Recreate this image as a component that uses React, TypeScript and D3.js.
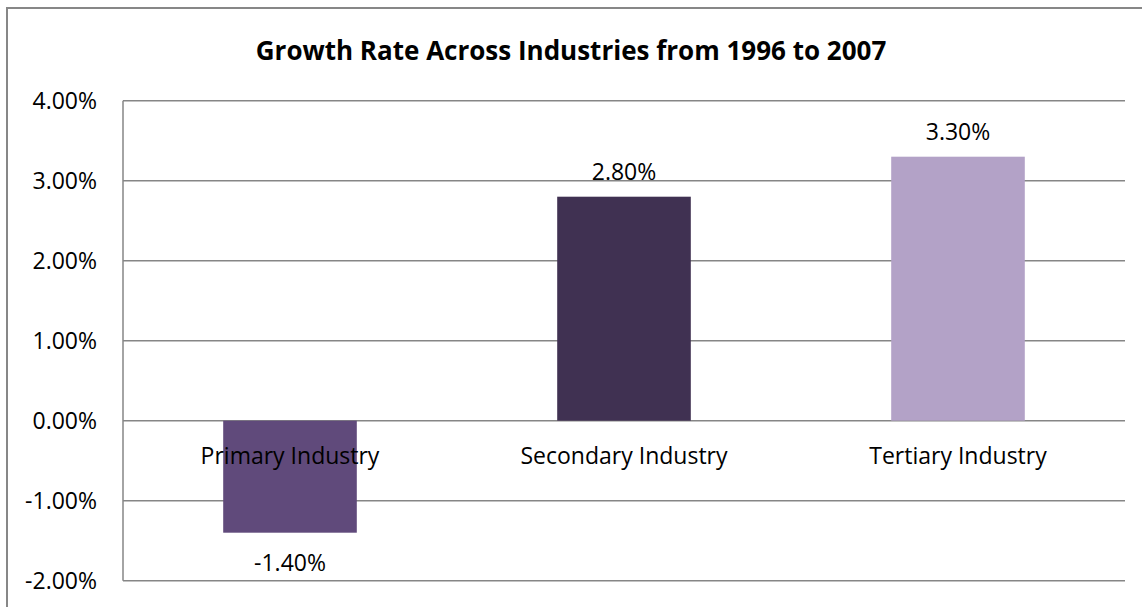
import React from "react";
import * as d3 from "d3";

const categories = ["Primary Industry", "Secondary Industry", "Tertiary Industry"];
const values = [-0.014, 0.028, 0.033];
const colors = ["#604a7b", "#403152", "#b3a2c7"];
const yTicks = [-0.02, -0.01, 0, 0.01, 0.02, 0.03, 0.04];
const title = "Growth Rate Across Industries from 1996 to 2007";

const W = 1142;
const H = 607;
const FONT = "'Open Sans', 'Liberation Sans', sans-serif";

export default function App() {
  const left = 123;
  const right = 1125;
  const top = 100.7;
  const bottom = 580.7;

  const y = d3.scaleLinear().domain([-0.02, 0.04]).range([bottom, top]);
  const x = d3.scaleBand<string>().domain(categories).range([left, right]).paddingInner(0.6).paddingOuter(0.3);
  const fmt = (v: number) => d3.format(".2%")(v).replace("\u2212", "-");
  const grid = "#868686";
  const fs = 23;

  return (
    <svg width={W} height={H} style={{ position: "absolute", left: 0, top: 0, display: "block", background: "#fff" }}>
      <rect x={7} y={8} width={W + 20} height={H + 20} fill="#fff" stroke="#878787" strokeWidth={2} />
      <text x={W / 2} y={60} textAnchor="middle" fontFamily={FONT} fontWeight="bold" fontSize={26} fill="#000">
        {title}
      </text>
      {yTicks.map((t) => (
        <g key={t}>
          <line x1={left} x2={right} y1={y(t)} y2={y(t)} stroke={grid} strokeWidth={1.5} />
          <text x={97} y={y(t)} dy="0.36em" textAnchor="end" fontFamily={FONT} fontSize={fs} fill="#000">
            {fmt(t)}
          </text>
        </g>
      ))}
      <line x1={left} x2={left} y1={top} y2={bottom} stroke={grid} strokeWidth={1.5} />
      {categories.map((c, i) => {
        const v = values[i];
        const y0 = y(0);
        const y1 = y(v);
        const cx = (x(c) as number) + x.bandwidth() / 2;
        return (
          <g key={c}>
            <rect x={x(c)} y={Math.min(y0, y1)} width={x.bandwidth()} height={Math.abs(y1 - y0)} fill={colors[i]} />
            <text x={cx} y={v >= 0 ? y1 - 17 : y1 + 38} textAnchor="middle" fontFamily={FONT} fontSize={fs} fill="#000">
              {fmt(v)}
            </text>
          </g>
        );
      })}
      {categories.map((c) => (
        <text key={"l" + c} x={(x(c) as number) + x.bandwidth() / 2} y={464} textAnchor="middle" fontFamily={FONT} fontSize={fs} fill="#000">
          {c}
        </text>
      ))}
    </svg>
  );
}
